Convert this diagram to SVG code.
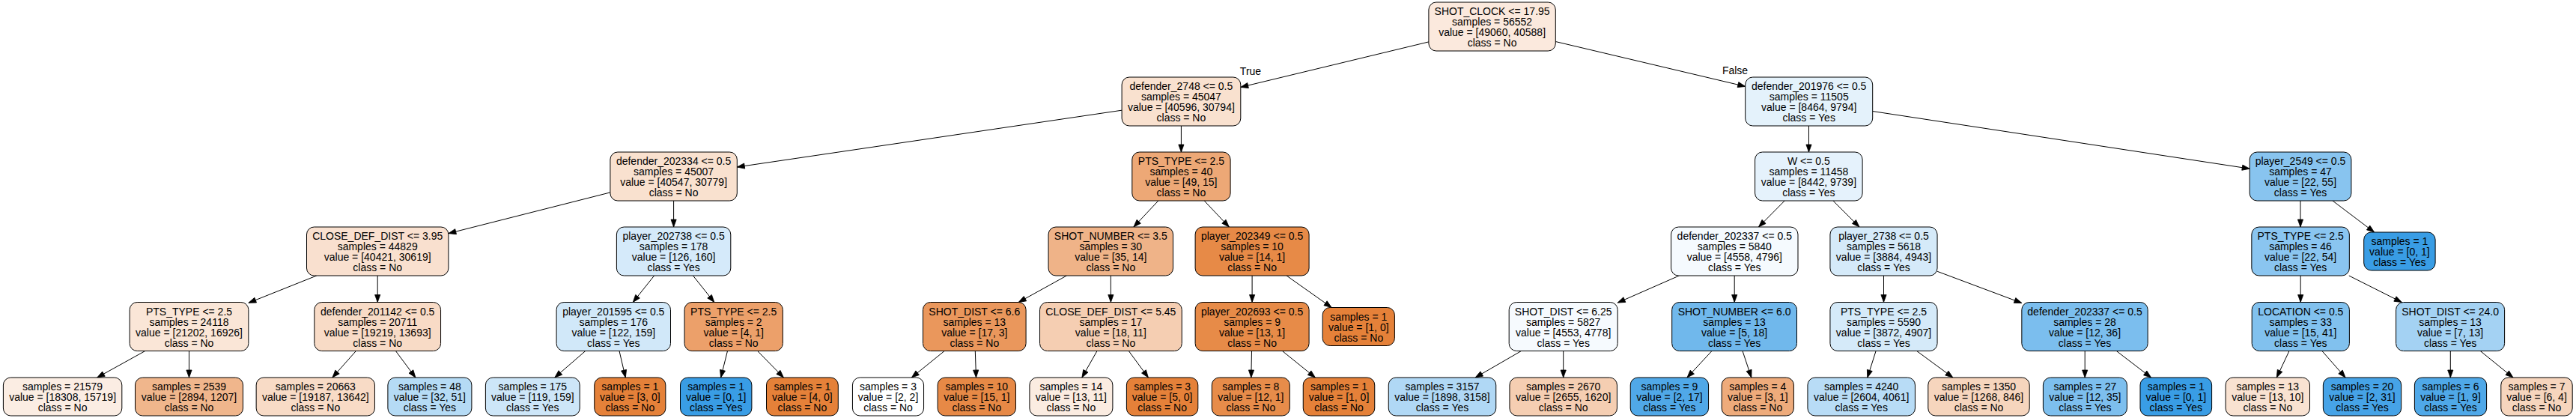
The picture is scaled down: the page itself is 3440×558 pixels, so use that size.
<svg xmlns="http://www.w3.org/2000/svg" width="3440" height="558" viewBox="0 0 3440 558">
<style>
.node rect{stroke:#000;stroke-width:1;}
.node text{font-family:"Liberation Sans",Arial,Helvetica,sans-serif;font-size:14px;fill:#000;text-anchor:middle;}
.edges line{stroke:#000;stroke-width:1;fill:none;marker-end:url(#ah);}
.elabel{font-family:"Liberation Sans",Arial,Helvetica,sans-serif;font-size:14px;fill:#000;text-anchor:middle;}
</style>
<defs>
<marker id="ah" markerWidth="10" markerHeight="8" refX="10" refY="4" orient="auto" markerUnits="userSpaceOnUse" overflow="visible">
<path d="M0,0.4 L10,4 L0,7.6 Z" fill="#000" stroke="#000" stroke-width="0.8"/>
</marker>
</defs>
<rect x="0" y="0" width="3440" height="558" fill="#fff"/>
<g class="edges" id="edges">
<line x1="1907.9" y1="55.9" x2="1656.8" y2="116.4"/>
<line x1="2077.3" y1="55.5" x2="2330.7" y2="115.4"/>
<line x1="1498.1" y1="147.2" x2="984.3" y2="223"/>
<line x1="1577.4" y1="168" x2="1577.4" y2="203"/>
<line x1="2415.5" y1="168" x2="2415.5" y2="203"/>
<line x1="2500.7" y1="148.5" x2="3004.2" y2="225.2"/>
<line x1="814.9" y1="256.9" x2="598.9" y2="311.6"/>
<line x1="899.6" y1="268" x2="899.6" y2="303"/>
<line x1="1546.8" y1="268" x2="1513.9" y2="303"/>
<line x1="1608.2" y1="268" x2="1641.3" y2="303"/>
<line x1="2383.2" y1="268" x2="2348.5" y2="303"/>
<line x1="2447.9" y1="268" x2="2483" y2="303"/>
<line x1="3072" y1="268" x2="3072" y2="303"/>
<line x1="3115" y1="268" x2="3170.6" y2="310"/>
<line x1="422.8" y1="368" x2="331.9" y2="404.3"/>
<line x1="504.2" y1="368" x2="504.2" y2="403.5"/>
<line x1="873.6" y1="368" x2="845.3" y2="403.5"/>
<line x1="925.5" y1="368" x2="953.8" y2="403.5"/>
<line x1="1424.4" y1="368" x2="1360.2" y2="403.5"/>
<line x1="1483.3" y1="368" x2="1483.4" y2="403.5"/>
<line x1="1672.1" y1="368" x2="1672.1" y2="403.5"/>
<line x1="1718.1" y1="368" x2="1778.2" y2="410.5"/>
<line x1="2242.4" y1="368" x2="2160.2" y2="404.1"/>
<line x1="2316.2" y1="368" x2="2316.2" y2="403.5"/>
<line x1="2515.5" y1="368" x2="2515.5" y2="403.5"/>
<line x1="2587.1" y1="362.3" x2="2699.9" y2="404.5"/>
<line x1="3072.2" y1="368" x2="3072.2" y2="403.5"/>
<line x1="3136.8" y1="368" x2="3207.4" y2="403.5"/>
<line x1="193.8" y1="468.5" x2="129.7" y2="504"/>
<line x1="252.5" y1="468.5" x2="252.5" y2="504"/>
<line x1="475.4" y1="468.5" x2="443.9" y2="504"/>
<line x1="528.4" y1="468.5" x2="554.9" y2="504"/>
<line x1="781.8" y1="468.5" x2="740.8" y2="504"/>
<line x1="827" y1="468.5" x2="835.3" y2="504"/>
<line x1="971.5" y1="468.5" x2="962.6" y2="504"/>
<line x1="1011.6" y1="468.5" x2="1046.4" y2="504"/>
<line x1="1261.2" y1="468.5" x2="1217.4" y2="504"/>
<line x1="1302.3" y1="468.5" x2="1303.5" y2="504"/>
<line x1="1465" y1="468.5" x2="1444.9" y2="504"/>
<line x1="1507.3" y1="468.5" x2="1533.4" y2="504"/>
<line x1="1671.5" y1="468.5" x2="1670.8" y2="504"/>
<line x1="1712.4" y1="468.5" x2="1756.4" y2="504"/>
<line x1="2031.5" y1="468.5" x2="1970.1" y2="504"/>
<line x1="2087.7" y1="468.5" x2="2087.7" y2="504"/>
<line x1="2286" y1="468.5" x2="2253" y2="504"/>
<line x1="2327" y1="468.5" x2="2338.8" y2="504"/>
<line x1="2505.1" y1="468.5" x2="2493.8" y2="504"/>
<line x1="2559.6" y1="468.5" x2="2607.9" y2="504"/>
<line x1="2784.2" y1="468.5" x2="2784.2" y2="504"/>
<line x1="2826.3" y1="468.5" x2="2872.6" y2="504"/>
<line x1="3057" y1="468.5" x2="3040.3" y2="504"/>
<line x1="3100.9" y1="468.5" x2="3132.1" y2="504"/>
<line x1="3272.3" y1="468.5" x2="3272.3" y2="504"/>
<line x1="3312.2" y1="468.5" x2="3356" y2="504"/>
<text class="elabel" x="1670" y="100">True</text>
<text class="elabel" x="2317" y="99">False</text>
</g>
<g class="node" id="n0"><rect x="1907.9" y="3" width="169.4" height="65" rx="10" fill="#fbe9dd"/><text x="1992.6"><tspan x="1992.6" y="20">SHOT_CLOCK &lt;= 17.95</tspan><tspan x="1992.6" y="34">samples = 56552</tspan><tspan x="1992.6" y="48">value = [49060, 40588]</tspan><tspan x="1992.6" y="62">class = No</tspan></text></g>
<g class="node" id="n1"><rect x="1498.1" y="103" width="158.7" height="65" rx="10" fill="#f9e1cf"/><text><tspan x="1577.4" y="120">defender_2748 &lt;= 0.5</tspan><tspan x="1577.4" y="134">samples = 45047</tspan><tspan x="1577.4" y="148">value = [40596, 30794]</tspan><tspan x="1577.4" y="162">class = No</tspan></text></g>
<g class="node" id="n2"><rect x="2330.7" y="103" width="170" height="65" rx="10" fill="#e4f2fb"/><text><tspan x="2415.7" y="120">defender_201976 &lt;= 0.5</tspan><tspan x="2415.7" y="134">samples = 11505</tspan><tspan x="2415.7" y="148">value = [8464, 9794]</tspan><tspan x="2415.7" y="162">class = Yes</tspan></text></g>
<g class="node" id="n3"><rect x="814.9" y="203" width="169.4" height="65" rx="10" fill="#f9e1cf"/><text><tspan x="899.6" y="220">defender_202334 &lt;= 0.5</tspan><tspan x="899.6" y="234">samples = 45007</tspan><tspan x="899.6" y="248">value = [40547, 30779]</tspan><tspan x="899.6" y="262">class = No</tspan></text></g>
<g class="node" id="n4"><rect x="1511.8" y="203" width="131.3" height="65" rx="10" fill="#eda876"/><text><tspan x="1577.4" y="220">PTS_TYPE &lt;= 2.5</tspan><tspan x="1577.4" y="234">samples = 40</tspan><tspan x="1577.4" y="248">value = [49, 15]</tspan><tspan x="1577.4" y="262">class = No</tspan></text></g>
<g class="node" id="n5"><rect x="2343.6" y="203" width="143.5" height="65" rx="10" fill="#e5f2fc"/><text><tspan x="2415.4" y="220">W &lt;= 0.5</tspan><tspan x="2415.4" y="234">samples = 11458</tspan><tspan x="2415.4" y="248">value = [8442, 9739]</tspan><tspan x="2415.4" y="262">class = Yes</tspan></text></g>
<g class="node" id="n6"><rect x="3004.2" y="203" width="135.7" height="65" rx="10" fill="#88c4ef"/><text><tspan x="3072" y="220">player_2549 &lt;= 0.5</tspan><tspan x="3072" y="234">samples = 47</tspan><tspan x="3072" y="248">value = [22, 55]</tspan><tspan x="3072" y="262">class = Yes</tspan></text></g>
<g class="node" id="n7"><rect x="409.5" y="303" width="189.4" height="65" rx="10" fill="#f9e0cf"/><text><tspan x="504.2" y="320">CLOSE_DEF_DIST &lt;= 3.95</tspan><tspan x="504.2" y="334">samples = 44829</tspan><tspan x="504.2" y="348">value = [40421, 30619]</tspan><tspan x="504.2" y="362">class = No</tspan></text></g>
<g class="node" id="n8"><rect x="823.4" y="303" width="152.4" height="65" rx="10" fill="#d5eafa"/><text><tspan x="899.6" y="320">player_202738 &lt;= 0.5</tspan><tspan x="899.6" y="334">samples = 178</tspan><tspan x="899.6" y="348">value = [126, 160]</tspan><tspan x="899.6" y="362">class = Yes</tspan></text></g>
<g class="node" id="n9"><rect x="1400.05" y="303" width="166.5" height="65" rx="10" fill="#efb388"/><text><tspan x="1483.3" y="320">SHOT_NUMBER &lt;= 3.5</tspan><tspan x="1483.3" y="334">samples = 30</tspan><tspan x="1483.3" y="348">value = [35, 14]</tspan><tspan x="1483.3" y="362">class = No</tspan></text></g>
<g class="node" id="n10"><rect x="1596.1" y="303" width="152" height="65" rx="10" fill="#e78a47"/><text><tspan x="1672.1" y="320">player_202349 &lt;= 0.5</tspan><tspan x="1672.1" y="334">samples = 10</tspan><tspan x="1672.1" y="348">value = [14, 1]</tspan><tspan x="1672.1" y="362">class = No</tspan></text></g>
<g class="node" id="n11"><rect x="2231.6" y="303" width="169.4" height="65" rx="10" fill="#f5fafe"/><text><tspan x="2316.3" y="320">defender_202337 &lt;= 0.5</tspan><tspan x="2316.3" y="334">samples = 5840</tspan><tspan x="2316.3" y="348">value = [4558, 4796]</tspan><tspan x="2316.3" y="362">class = Yes</tspan></text></g>
<g class="node" id="n12"><rect x="2443.95" y="303" width="143.1" height="65" rx="10" fill="#d5eaf9"/><text><tspan x="2515.5" y="320">player_2738 &lt;= 0.5</tspan><tspan x="2515.5" y="334">samples = 5618</tspan><tspan x="2515.5" y="348">value = [3884, 4943]</tspan><tspan x="2515.5" y="362">class = Yes</tspan></text></g>
<g class="node" id="n13"><rect x="3006.85" y="303" width="130.5" height="65" rx="10" fill="#8ac5f0"/><text><tspan x="3072.1" y="320">PTS_TYPE &lt;= 2.5</tspan><tspan x="3072.1" y="334">samples = 46</tspan><tspan x="3072.1" y="348">value = [22, 54]</tspan><tspan x="3072.1" y="362">class = Yes</tspan></text></g>
<g class="node" id="n14"><rect x="3156.7" y="310" width="95.4" height="51" rx="10" fill="#399de5"/><text><tspan x="3204.4" y="327">samples = 1</tspan><tspan x="3204.4" y="341">value = [0, 1]</tspan><tspan x="3204.4" y="355">class = Yes</tspan></text></g>
<g class="node" id="n15"><rect x="173.15" y="403.5" width="158.7" height="65" rx="10" fill="#fae6d7"/><text><tspan x="252.5" y="420.5">PTS_TYPE &lt;= 2.5</tspan><tspan x="252.5" y="434.5">samples = 24118</tspan><tspan x="252.5" y="448.5">value = [21202, 16926]</tspan><tspan x="252.5" y="462.5">class = No</tspan></text></g>
<g class="node" id="n16"><rect x="419.85" y="403.5" width="168.7" height="65" rx="10" fill="#f8dbc6"/><text><tspan x="504.2" y="420.5">defender_201142 &lt;= 0.5</tspan><tspan x="504.2" y="434.5">samples = 20711</tspan><tspan x="504.2" y="448.5">value = [19219, 13693]</tspan><tspan x="504.2" y="462.5">class = No</tspan></text></g>
<g class="node" id="n17"><rect x="743.1" y="403.5" width="152.4" height="65" rx="10" fill="#d1e8f9"/><text><tspan x="819.3" y="420.5">player_201595 &lt;= 0.5</tspan><tspan x="819.3" y="434.5">samples = 176</tspan><tspan x="819.3" y="448.5">value = [122, 159]</tspan><tspan x="819.3" y="462.5">class = Yes</tspan></text></g>
<g class="node" id="n18"><rect x="914.05" y="403.5" width="131.3" height="65" rx="10" fill="#eca06a"/><text><tspan x="979.7" y="420.5">PTS_TYPE &lt;= 2.5</tspan><tspan x="979.7" y="434.5">samples = 2</tspan><tspan x="979.7" y="448.5">value = [4, 1]</tspan><tspan x="979.7" y="462.5">class = No</tspan></text></g>
<g class="node" id="n19"><rect x="1232.5" y="403.5" width="137.6" height="65" rx="10" fill="#ea975c"/><text><tspan x="1301.3" y="420.5">SHOT_DIST &lt;= 6.6</tspan><tspan x="1301.3" y="434.5">samples = 13</tspan><tspan x="1301.3" y="448.5">value = [17, 3]</tspan><tspan x="1301.3" y="462.5">class = No</tspan></text></g>
<g class="node" id="n20"><rect x="1388.55" y="403.5" width="189.7" height="65" rx="10" fill="#f5ceb2"/><text><tspan x="1483.4" y="420.5">CLOSE_DEF_DIST &lt;= 5.45</tspan><tspan x="1483.4" y="434.5">samples = 17</tspan><tspan x="1483.4" y="448.5">value = [18, 11]</tspan><tspan x="1483.4" y="462.5">class = No</tspan></text></g>
<g class="node" id="n21"><rect x="1596.1" y="403.5" width="152" height="65" rx="10" fill="#e78b48"/><text><tspan x="1672.1" y="420.5">player_202693 &lt;= 0.5</tspan><tspan x="1672.1" y="434.5">samples = 9</tspan><tspan x="1672.1" y="448.5">value = [13, 1]</tspan><tspan x="1672.1" y="462.5">class = No</tspan></text></g>
<g class="node" id="n22"><rect x="1766.2" y="410.5" width="96.2" height="51" rx="10" fill="#e58139"/><text><tspan x="1814.3" y="427.5">samples = 1</tspan><tspan x="1814.3" y="441.5">value = [1, 0]</tspan><tspan x="1814.3" y="455.5">class = No</tspan></text></g>
<g class="node" id="n23"><rect x="2015.2" y="403.5" width="145" height="65" rx="10" fill="#f6fafe"/><text><tspan x="2087.7" y="420.5">SHOT_DIST &lt;= 6.25</tspan><tspan x="2087.7" y="434.5">samples = 5827</tspan><tspan x="2087.7" y="448.5">value = [4553, 4778]</tspan><tspan x="2087.7" y="462.5">class = Yes</tspan></text></g>
<g class="node" id="n24"><rect x="2232.7" y="403.5" width="166.8" height="65" rx="10" fill="#70b8ec"/><text><tspan x="2316.1" y="420.5">SHOT_NUMBER &lt;= 6.0</tspan><tspan x="2316.1" y="434.5">samples = 13</tspan><tspan x="2316.1" y="448.5">value = [5, 18]</tspan><tspan x="2316.1" y="462.5">class = Yes</tspan></text></g>
<g class="node" id="n25"><rect x="2443.95" y="403.5" width="143.1" height="65" rx="10" fill="#d5eaf9"/><text><tspan x="2515.5" y="420.5">PTS_TYPE &lt;= 2.5</tspan><tspan x="2515.5" y="434.5">samples = 5590</tspan><tspan x="2515.5" y="448.5">value = [3872, 4907]</tspan><tspan x="2515.5" y="462.5">class = Yes</tspan></text></g>
<g class="node" id="n26"><rect x="2699.85" y="403.5" width="168.3" height="65" rx="10" fill="#7bbeee"/><text><tspan x="2784" y="420.5">defender_202337 &lt;= 0.5</tspan><tspan x="2784" y="434.5">samples = 28</tspan><tspan x="2784" y="448.5">value = [12, 36]</tspan><tspan x="2784" y="462.5">class = Yes</tspan></text></g>
<g class="node" id="n27"><rect x="3007.2" y="403.5" width="130.2" height="65" rx="10" fill="#81c1ee"/><text><tspan x="3072.3" y="420.5">LOCATION &lt;= 0.5</tspan><tspan x="3072.3" y="434.5">samples = 33</tspan><tspan x="3072.3" y="448.5">value = [15, 41]</tspan><tspan x="3072.3" y="462.5">class = Yes</tspan></text></g>
<g class="node" id="n28"><rect x="3199.6" y="403.5" width="145" height="65" rx="10" fill="#a4d2f3"/><text><tspan x="3272.1" y="420.5">SHOT_DIST &lt;= 24.0</tspan><tspan x="3272.1" y="434.5">samples = 13</tspan><tspan x="3272.1" y="448.5">value = [7, 13]</tspan><tspan x="3272.1" y="462.5">class = Yes</tspan></text></g>
<g class="node" id="l1"><rect x="4.4" y="504" width="158.4" height="51" rx="10" fill="#fbede3"/><text><tspan x="83.6" y="521">samples = 21579</tspan><tspan x="83.6" y="535">value = [18308, 15719]</tspan><tspan x="83.6" y="549">class = No</tspan></text></g>
<g class="node" id="l2"><rect x="180.5" y="504" width="144" height="51" rx="10" fill="#f0b68c"/><text><tspan x="252.5" y="521">samples = 2539</tspan><tspan x="252.5" y="535">value = [2894, 1207]</tspan><tspan x="252.5" y="549">class = No</tspan></text></g>
<g class="node" id="l3"><rect x="342.15" y="504" width="158.3" height="51" rx="10" fill="#f8dbc6"/><text><tspan x="421.3" y="521">samples = 20663</tspan><tspan x="421.3" y="535">value = [19187, 13642]</tspan><tspan x="421.3" y="549">class = No</tspan></text></g>
<g class="node" id="l4"><rect x="517.9" y="504" width="112" height="51" rx="10" fill="#b5dbf5"/><text><tspan x="573.9" y="521">samples = 48</tspan><tspan x="573.9" y="535">value = [32, 51]</tspan><tspan x="573.9" y="549">class = Yes</tspan></text></g>
<g class="node" id="l5"><rect x="648.4" y="504" width="125.8" height="51" rx="10" fill="#cde6f8"/><text><tspan x="711.3" y="521">samples = 175</tspan><tspan x="711.3" y="535">value = [119, 159]</tspan><tspan x="711.3" y="549">class = Yes</tspan></text></g>
<g class="node" id="l6"><rect x="793.75" y="504" width="95.1" height="51" rx="10" fill="#e58139"/><text><tspan x="841.3" y="521">samples = 1</tspan><tspan x="841.3" y="535">value = [3, 0]</tspan><tspan x="841.3" y="549">class = No</tspan></text></g>
<g class="node" id="l7"><rect x="908.5" y="504" width="95.4" height="51" rx="10" fill="#399de5"/><text><tspan x="956.2" y="521">samples = 1</tspan><tspan x="956.2" y="535">value = [0, 1]</tspan><tspan x="956.2" y="549">class = Yes</tspan></text></g>
<g class="node" id="l8"><rect x="1023.5" y="504" width="95.8" height="51" rx="10" fill="#e58139"/><text><tspan x="1071.4" y="521">samples = 1</tspan><tspan x="1071.4" y="535">value = [4, 0]</tspan><tspan x="1071.4" y="549">class = No</tspan></text></g>
<g class="node" id="l9"><rect x="1138.45" y="504" width="95.1" height="51" rx="10" fill="#ffffff"/><text><tspan x="1186" y="521">samples = 3</tspan><tspan x="1186" y="535">value = [2, 2]</tspan><tspan x="1186" y="549">class = No</tspan></text></g>
<g class="node" id="l10"><rect x="1252.15" y="504" width="104.3" height="51" rx="10" fill="#e78946"/><text><tspan x="1304.3" y="521">samples = 10</tspan><tspan x="1304.3" y="535">value = [15, 1]</tspan><tspan x="1304.3" y="549">class = No</tspan></text></g>
<g class="node" id="l11"><rect x="1374.9" y="504" width="111" height="51" rx="10" fill="#fbece1"/><text><tspan x="1430.4" y="521">samples = 14</tspan><tspan x="1430.4" y="535">value = [13, 11]</tspan><tspan x="1430.4" y="549">class = No</tspan></text></g>
<g class="node" id="l12"><rect x="1504.4" y="504" width="95.4" height="51" rx="10" fill="#e58139"/><text><tspan x="1552.1" y="521">samples = 3</tspan><tspan x="1552.1" y="535">value = [5, 0]</tspan><tspan x="1552.1" y="549">class = No</tspan></text></g>
<g class="node" id="l13"><rect x="1618.3" y="504" width="104" height="51" rx="10" fill="#e78c4a"/><text><tspan x="1670.3" y="521">samples = 8</tspan><tspan x="1670.3" y="535">value = [12, 1]</tspan><tspan x="1670.3" y="549">class = No</tspan></text></g>
<g class="node" id="l14"><rect x="1740.25" y="504" width="95.5" height="51" rx="10" fill="#e58139"/><text><tspan x="1788" y="521">samples = 1</tspan><tspan x="1788" y="535">value = [1, 0]</tspan><tspan x="1788" y="549">class = No</tspan></text></g>
<g class="node" id="l15"><rect x="1854.25" y="504" width="143.5" height="51" rx="10" fill="#b0d8f5"/><text><tspan x="1926" y="521">samples = 3157</tspan><tspan x="1926" y="535">value = [1898, 3158]</tspan><tspan x="1926" y="549">class = Yes</tspan></text></g>
<g class="node" id="l16"><rect x="2015.95" y="504" width="143.5" height="51" rx="10" fill="#f5ceb2"/><text><tspan x="2087.7" y="521">samples = 2670</tspan><tspan x="2087.7" y="535">value = [2655, 1620]</tspan><tspan x="2087.7" y="549">class = No</tspan></text></g>
<g class="node" id="l17"><rect x="2177.25" y="504" width="104.3" height="51" rx="10" fill="#50a8e8"/><text><tspan x="2229.4" y="521">samples = 9</tspan><tspan x="2229.4" y="535">value = [2, 17]</tspan><tspan x="2229.4" y="549">class = Yes</tspan></text></g>
<g class="node" id="l18"><rect x="2299.2" y="504" width="96.2" height="51" rx="10" fill="#eeab7b"/><text><tspan x="2347.3" y="521">samples = 4</tspan><tspan x="2347.3" y="535">value = [3, 1]</tspan><tspan x="2347.3" y="549">class = No</tspan></text></g>
<g class="node" id="l19"><rect x="2413.95" y="504" width="143.5" height="51" rx="10" fill="#b8dcf6"/><text><tspan x="2485.7" y="521">samples = 4240</tspan><tspan x="2485.7" y="535">value = [2604, 4061]</tspan><tspan x="2485.7" y="549">class = Yes</tspan></text></g>
<g class="node" id="l20"><rect x="2574.8" y="504" width="135.4" height="51" rx="10" fill="#f6d5bd"/><text><tspan x="2642.5" y="521">samples = 1350</tspan><tspan x="2642.5" y="535">value = [1268, 846]</tspan><tspan x="2642.5" y="549">class = No</tspan></text></g>
<g class="node" id="l21"><rect x="2728.4" y="504" width="112" height="51" rx="10" fill="#7dbfee"/><text><tspan x="2784.4" y="521">samples = 27</tspan><tspan x="2784.4" y="535">value = [12, 35]</tspan><tspan x="2784.4" y="549">class = Yes</tspan></text></g>
<g class="node" id="l22"><rect x="2858" y="504" width="95.6" height="51" rx="10" fill="#399de5"/><text><tspan x="2905.8" y="521">samples = 1</tspan><tspan x="2905.8" y="535">value = [0, 1]</tspan><tspan x="2905.8" y="549">class = Yes</tspan></text></g>
<g class="node" id="l23"><rect x="2972.1" y="504" width="112.4" height="51" rx="10" fill="#f9e2d1"/><text><tspan x="3028.3" y="521">samples = 13</tspan><tspan x="3028.3" y="535">value = [13, 10]</tspan><tspan x="3028.3" y="549">class = No</tspan></text></g>
<g class="node" id="l24"><rect x="3102.35" y="504" width="104.3" height="51" rx="10" fill="#46a3e7"/><text><tspan x="3154.5" y="521">samples = 20</tspan><tspan x="3154.5" y="535">value = [2, 31]</tspan><tspan x="3154.5" y="549">class = Yes</tspan></text></g>
<g class="node" id="l25"><rect x="3224.4" y="504" width="96.2" height="51" rx="10" fill="#4fa8e8"/><text><tspan x="3272.5" y="521">samples = 6</tspan><tspan x="3272.5" y="535">value = [1, 9]</tspan><tspan x="3272.5" y="549">class = Yes</tspan></text></g>
<g class="node" id="l26"><rect x="3339.8" y="504" width="95.4" height="51" rx="10" fill="#f6d5bd"/><text><tspan x="3387.5" y="521">samples = 7</tspan><tspan x="3387.5" y="535">value = [6, 4]</tspan><tspan x="3387.5" y="549">class = No</tspan></text></g>
</svg>
